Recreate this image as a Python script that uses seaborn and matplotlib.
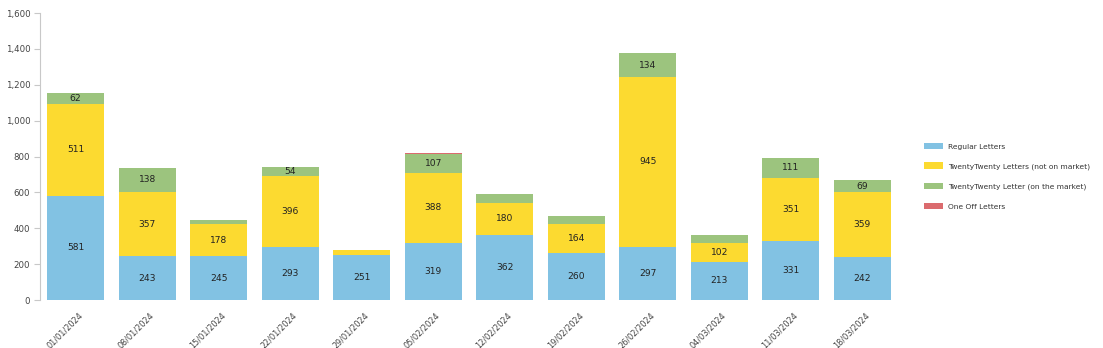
import matplotlib
matplotlib.use("Agg")
import matplotlib.pyplot as plt
from matplotlib.patches import Patch
import numpy as np
import pandas as pd
import seaborn as sns

weeks = ["01/01/2024", "08/01/2024", "15/01/2024", "22/01/2024", "29/01/2024", "05/02/2024",
         "12/02/2024", "19/02/2024", "26/02/2024", "04/03/2024", "11/03/2024", "18/03/2024"]
regular = [581, 243, 245, 293, 251, 319, 362, 260, 297, 213, 331, 242]
tt_not_market = [511, 357, 178, 396, 26, 388, 180, 164, 945, 102, 351, 359]
tt_on_market = [62, 138, 23, 54, 0, 107, 49, 44, 134, 45, 111, 69]
one_off = [0, 0, 0, 0, 0, 4, 0, 0, 3, 0, 0, 0]

series_names = ["Regular Letters", "TwentyTwenty Letters (not on market)",
                "TwentyTwenty Letter (on the market)", "One Off Letters"]
series_values = [regular, tt_not_market, tt_on_market, one_off]
colors = ["#82C2E3", "#FCDA30", "#9CC47E", "#DB6B6E"]

sns.set_theme(style="white")
plt.rcParams["font.family"] = ["DejaVu Sans"]

fig = plt.figure(figsize=(11.03, 3.48), dpi=100)
ax = fig.add_axes([40 / 1103, 48 / 348, 858 / 1103, 287 / 348])

bottom = np.zeros(len(weeks))
for name, vals, col in zip(series_names, series_values, colors):
    df = pd.DataFrame({"week": weeks, "value": vals})
    sns.barplot(data=df, x="week", y="value", color=col, width=0.8, bottom=bottom,
                saturation=1, ax=ax, linewidth=0, errorbar=None)
    for i, v in enumerate(vals):
        if v >= 50:
            ax.text(i, bottom[i] + v / 2, f"{v}", ha="center", va="center",
                    fontsize=6.6, color="#222222")
    bottom = bottom + np.array(vals)

ax.set_xlim(-0.5, len(weeks) - 0.5)
ax.set_ylim(0, 1600)
ax.set_yticks(range(0, 1601, 200))
ax.set_yticklabels([f"{t:,}" for t in range(0, 1601, 200)], fontsize=6.2, color="#444444")
ax.set_xticks(np.arange(len(weeks)) + 0.03)
ax.set_xticklabels(weeks, rotation=45, ha="right", rotation_mode="anchor",
                   fontsize=5.9, color="#444444")
ax.set_xlabel("")
ax.set_ylabel("")
for side in ["top", "right", "bottom"]:
    ax.spines[side].set_visible(False)
ax.spines["left"].set_color("#c8c8c8")
ax.spines["left"].set_linewidth(0.8)
ax.tick_params(axis="y", which="both", left=True, length=4, width=0.8, color="#c8c8c8", pad=3)
ax.tick_params(axis="x", which="both", bottom=False, pad=1.5)
ax.grid(False)

handles = [Patch(facecolor=c, edgecolor="none", label=n) for n, c in zip(series_names, colors)]
fig.legend(handles=handles, loc="upper left", bbox_to_anchor=(917 / 1103, 1 - 136 / 348),
           frameon=False, fontsize=5.4, handlelength=2.6, handleheight=1.0,
           labelspacing=1.7, handletextpad=0.6, labelcolor="#333333")

fig.savefig("out.png", dpi=100)
